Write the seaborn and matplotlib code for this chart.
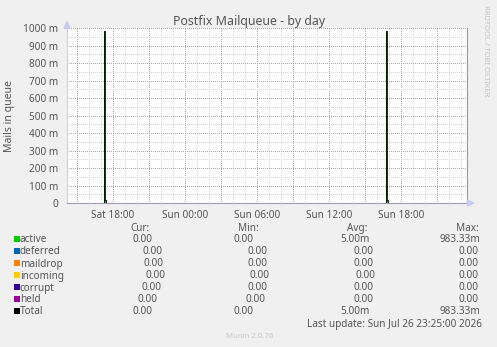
import matplotlib
matplotlib.use("Agg")
import matplotlib.pyplot as plt
import seaborn as sns
import pandas as pd
from matplotlib.ticker import MultipleLocator, FixedLocator, FixedFormatter
from matplotlib.patches import Polygon, Rectangle

# ---------------- data ----------------
title = "Postfix Mailqueue - by day"
ylabel = "Mails in queue"

sample_times = ["Sat 14:10", "Sat 17:15", "Sat 17:20", "Sat 17:25",
                "Sun 16:45", "Sun 16:50", "Sun 16:55", "Sun 23:30"]
active = [0, 983.33, 16.67, 0, 983.33, 16.67, 0, 0]      # milli-mails
deferred = [0, 0, 0, 0, 0, 0, 0, 0]
maildrop = [0, 0, 0, 0, 0, 0, 0, 0]
incoming = [0, 0, 0, 0, 0, 0, 0, 0]
corrupt = [0, 0, 0, 0, 0, 0, 0, 0]
held = [0, 0, 0, 0, 0, 0, 0, 0]

series_names = ["active", "deferred", "maildrop", "incoming", "corrupt", "held", "Total"]
series_colors = ["#00CC00", "#0066B3", "#FF8000", "#FFCC00", "#330099", "#990099", "#000000"]

cur_vals = ["0.00", "0.00", "0.00", "0.00", "0.00", "0.00", "0.00"]
min_vals = ["0.00", "0.00", "0.00", "0.00", "0.00", "0.00", "0.00"]
avg_vals = ["5.00m", "0.00", "0.00", "0.00", "0.00", "0.00", "5.00m"]
max_vals = ["983.33m", "0.00", "0.00", "0.00", "0.00", "0.00", "983.33m"]

x_tick_labels = ["Sat 18:00", "Sun 00:00", "Sun 06:00", "Sun 12:00", "Sun 18:00"]
y_tick_values = [0, 100, 200, 300, 400, 500, 600, 700, 800, 900, 1000]
y_tick_labels = ["0", "100 m", "200 m", "300 m", "400 m", "500 m",
                 "600 m", "700 m", "800 m", "900 m", "1000 m"]
last_update = "Last update: Sun Jul 26 23:25:00 2026"
footer = "Munin 2.0.76"
watermark = "RRDTOOL / TOBI OETIKER"

# ---------------- helpers ----------------
DAY = {"Sat": 0, "Sun": 24}


def to_hours(s):
    d, t = s.split()
    h, m = t.split(":")
    return DAY[d] + int(h) + int(m) / 60.0


W, H = 497, 347
sns.set_style("white")
plt.rcParams["font.family"] = ["Noto Sans", "DejaVu Sans"]
TXT = "#555555"

fig = plt.figure(figsize=(W / 100, H / 100), dpi=100)
fig.patch.set_facecolor("#F0F0F0")


def fx(x):
    return x / W


def fy(y):
    return 1 - y / H


L, R, T, B = 67, 467, 28, 203
ax = fig.add_axes([fx(L), fy(B), (R - L) / W, (B - T) / H])
ax.set_facecolor("white")

hours = [to_hours(s) for s in sample_times]
df = pd.DataFrame({"hour": hours, "active": active, "deferred": deferred,
                   "maildrop": maildrop, "incoming": incoming,
                   "corrupt": corrupt, "held": held})
df["Total"] = df[series_names[:-1]].sum(axis=1)

# stacked areas
base = pd.Series([0.0] * len(df))
for name, col in zip(series_names[:-1], series_colors[:-1]):
    top = base + df[name]
    if df[name].abs().sum() > 0:
        ax.fill_between(df["hour"], base, top, step="post", color=col, lw=0, zorder=2)
    base = top

sns.lineplot(data=df, x="hour", y="Total", drawstyle="steps-post", color="black",
             lw=0.6, estimator=None, sort=False, ax=ax, zorder=3)

x0 = to_hours("Sat 14:10")
ax.set_xlim(x0, x0 + (R - L) / 12.0)
ax.set_ylim(0, 1000)

# grid
ax.xaxis.set_major_locator(MultipleLocator(3))
ax.xaxis.set_minor_locator(MultipleLocator(1))
ax.yaxis.set_major_locator(FixedLocator(y_tick_values))
ax.yaxis.set_major_formatter(FixedFormatter(y_tick_labels))
ax.yaxis.set_minor_locator(MultipleLocator(50))
lab_pos = [to_hours(s) for s in x_tick_labels]


def xfmt(v, pos):
    for p, lab in zip(lab_pos, x_tick_labels):
        if abs(p - v) < 1e-6:
            return lab
    return ""


ax.xaxis.set_major_formatter(matplotlib.ticker.FuncFormatter(xfmt))
ax.grid(which="major", color="#EC8A8A", lw=0.72, linestyle=(0.5, (1, 1)), zorder=0)
ax.grid(which="minor", color="#D6D6D6", lw=0.72, linestyle=(0.5, (1, 1)), zorder=0)
ax.set_axisbelow(True)

ax.tick_params(axis="both", which="major", length=2.2, width=0.72, color="#EC8A8A",
               labelsize=7.2, labelcolor=TXT)
ax.tick_params(axis="both", which="minor", length=1.5, width=0.72, color="#D6D6D6")
ax.tick_params(axis="x", which="major", pad=3)
ax.tick_params(axis="y", which="major", pad=4)
ax.set_xlabel("")
ax.set_ylabel("")

ax.spines["top"].set_visible(False)
ax.spines["left"].set_color("#C8CCF0")
ax.spines["left"].set_linewidth(0.8)
ax.spines["bottom"].set_color("#9C9CB4")
ax.spines["bottom"].set_linewidth(0.8)
ax.spines["right"].set_color("#999999")
ax.spines["right"].set_linewidth(0.8)

# arrows
fig.patches.append(Polygon([[fx(64), fy(28.5)], [fx(70), fy(28.5)], [fx(67), fy(21.5)]],
                           closed=True, transform=fig.transFigure, color="#C8CCF0", zorder=5))
fig.patches.append(Polygon([[fx(467.3), fy(200)], [fx(467.3), fy(206)], [fx(474), fy(203)]],
                           closed=True, transform=fig.transFigure, color="#C8CCF0", zorder=5))

# texts
fig.text(fx(249), fy(25.5), title, ha="center", va="baseline", fontsize=8.9, color=TXT)
fig.text(fx(10), fy(116), ylabel, ha="center", va="center", rotation=90, fontsize=7.5, color=TXT)
fig.text(fx(486), fy(5), watermark, ha="center", va="top", rotation=270, fontsize=5.4,
         color="#C4C4C4")

# legend
head_y = 231
fig.text(fx(130), fy(head_y), "Cur:", fontsize=7.2, color=TXT, va="baseline")
fig.text(fx(238), fy(head_y), "Min:", fontsize=7.2, color=TXT, va="baseline")
fig.text(fx(346.7), fy(head_y), "Avg:", fontsize=7.2, color=TXT, va="baseline")
fig.text(fx(455.7), fy(head_y), "Max:", fontsize=7.2, color=TXT, va="baseline")

cur_x = [132.7, 142.7, 144, 145, 141.7, 137.7, 132.3]
min_x = [234, 248, 248, 250, 248, 246, 234]
avg_x = [340, 354, 354, 355, 354, 353, 340]
max_x = [440, 458.7, 458.7, 458.7, 458.7, 458.7, 440]
for i, (name, col) in enumerate(zip(series_names, series_colors)):
    by = 242.5 + 12 * i
    fig.patches.append(Rectangle((fx(14), fy(by - 1)), 5.5 / W, 5.5 / H,
                                 transform=fig.transFigure, color=col, lw=0))
    fig.text(fx(20), fy(by), name, fontsize=7.2, color=TXT, va="baseline")
    fig.text(fx(cur_x[i]), fy(by), cur_vals[i], fontsize=7.2, color=TXT, va="baseline")
    fig.text(fx(min_x[i]), fy(by), min_vals[i], fontsize=7.2, color=TXT, va="baseline")
    fig.text(fx(avg_x[i]), fy(by), avg_vals[i], fontsize=7.2, color=TXT, va="baseline")
    fig.text(fx(max_x[i]), fy(by), max_vals[i], fontsize=7.2, color=TXT, va="baseline")

fig.text(fx(482.3), fy(327), last_update, ha="right", fontsize=7.2, color=TXT, va="baseline")
fig.text(fx(250), fy(338), footer, ha="center", fontsize=5.6, color="#C8C8C8", va="baseline")

fig.savefig("out.png", dpi=100, facecolor=fig.get_facecolor())
